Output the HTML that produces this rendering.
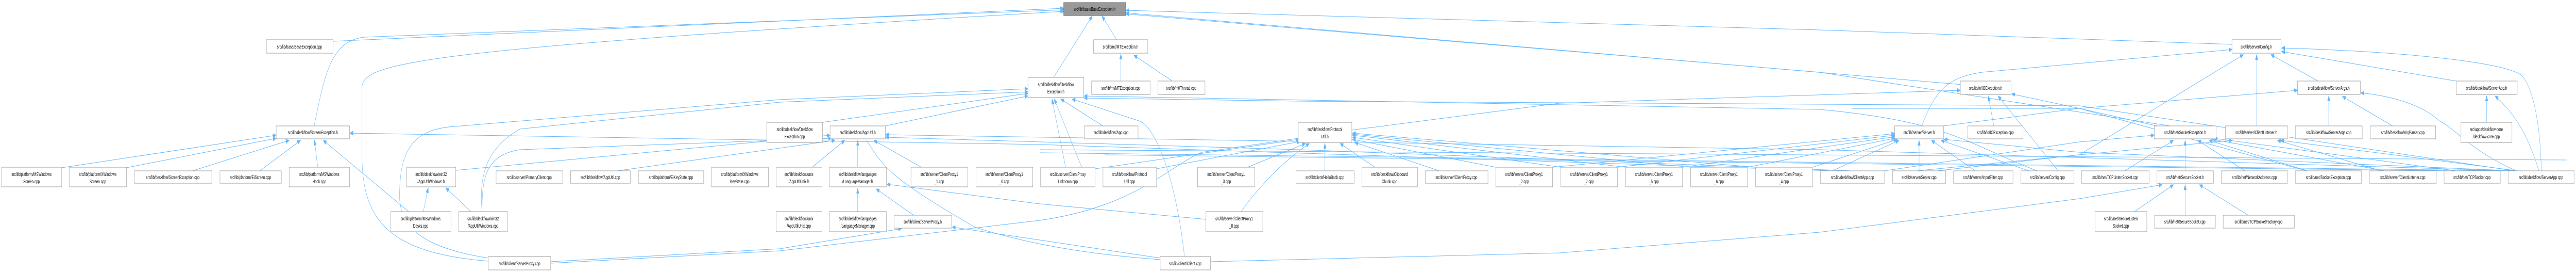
<!DOCTYPE html>
<html><head><meta charset="utf-8"><style>
html,body{margin:0;padding:0;background:#fff;width:100%;height:100%;overflow:hidden;}
svg{display:block;width:100vw;height:100vh;}
text{font-family:"Liberation Sans",Arial,sans-serif;font-size:10px;fill:#000;text-anchor:middle;}
.n{fill:#fff;stroke:#999;stroke-width:1;}
.e{fill:none;stroke:#63b8ff;stroke-width:1;marker-end:url(#a);}
.l{fill:none;stroke:#63b8ff;stroke-width:1;}
</style></head><body>
<svg viewBox="0 0 7929 527" preserveAspectRatio="none" xmlns="http://www.w3.org/2000/svg">
<defs><marker id="a" markerUnits="userSpaceOnUse" markerWidth="11" markerHeight="8" refX="10" refY="4" orient="auto"><path d="M0,0 L10,4 L0,8 z" fill="#63b8ff" stroke="#63b8ff"/></marker></defs>
<g>
<path class="e" d="M1025,80 L3274,16"/>
<path class="e" d="M967,244 C1000,140 1020,80 1120,72 L3274,19"/>
<path class="e" d="M1503,506 C1200,490 1114,430 1114,300 L1114,170 C1114,120 1300,95 3274,22"/>
<path class="e" d="M3243,150 L3362,31"/>
<path class="e" d="M3437,77 L3392,31"/>
<path class="e" d="M6040,164 L4800,97 L3466,25"/>
<path class="e" d="M6680,244 L5600,140 L3466,27"/>
<path class="e" d="M6870,86 L5600,58 L3466,20"/>
<path class="e" d="M190,325 L850,262"/>
<path class="e" d="M389,325 L850,268"/>
<path class="e" d="M592,331 L890,272"/>
<path class="e" d="M800,331 L925,272"/>
<path class="e" d="M978,324 L968,272"/>
<path class="e" d="M1258,410 L995,272"/>
<path class="e" d="M5640,331 L3200,280 L1077,258"/>
<path class="e" d="M1303,410 L1318,364"/>
<path class="e" d="M1450,410 L1372,364"/>
<path class="e" d="M1403,330 L2555,262"/>
<path class="e" d="M1484,410 C1482,340 1500,300 1600,290 L2560,268"/>
<path class="e" d="M1503,500 C1300,480 1230,440 1230,380 C1230,300 1260,250 1400,245 L2400,193 L3164,172"/>
<path class="e" d="M1484,410 C1470,320 1520,280 1600,250 L2400,198 L3164,178"/>
<path class="e" d="M2532,237 L3164,181"/>
<path class="e" d="M2725,244 L3164,186"/>
<path class="e" d="M3280,324 L3238,192"/>
<path class="e" d="M3330,324 C3300,280 3270,230 3245,192"/>
<path class="e" d="M3395,244 L3265,192"/>
<path class="e" d="M3646,497 C3620,350 3560,250 3510,235 L3300,192"/>
<path class="e" d="M6270,331 C6060,280 6000,235 5600,212 L3337,186"/>
<path class="e" d="M7740,331 L6400,205 L4000,196 L3337,190"/>
<path class="e" d="M1900,331 L2570,272"/>
<path class="e" d="M2500,324 L2600,272"/>
<path class="e" d="M2640,324 L2640,272"/>
<path class="e" d="M2836,324 L2690,272"/>
<path class="l" d="M2668,272 C2720,330 2770,355 3000,440 C3200,480 3400,495 3571,503"/>
<path class="e" d="M7730,331 L5600,290 L2726,261"/>
<path class="e" d="M5700,331 L4000,290 L2726,266"/>
<path class="e" d="M2640,410 L2640,365"/>
<path class="e" d="M2812,417 L2697,366"/>
<path class="e" d="M3712,425 L3200,395 L2730,357"/>
<path class="e" d="M1695,507 L2400,482 L2775,443"/>
<path class="l" d="M1695,510 L2400,486 L3200,427 C3500,400 3600,320 3700,295 L3996,268"/>
<path class="e" d="M3571,500 L3200,465 L2931,440"/>
<path class="e" d="M3450,157 L3450,105"/>
<path class="e" d="M3608,157 L3490,107"/>
<path class="e" d="M3371,327 L3999,270"/>
<path class="e" d="M3560,327 L4003,274"/>
<path class="e" d="M3840,324 L4018,278"/>
<path class="e" d="M3820,410 C3900,340 3980,300 4030,278"/>
<path class="e" d="M4078,331 L4078,278"/>
<path class="e" d="M4232,324 L4125,278"/>
<path class="e" d="M4430,331 L4170,276"/>
<path class="e" d="M4604,324 L4163,270"/>
<path class="e" d="M4804,324 L4163,266"/>
<path class="e" d="M5004,324 L4163,262"/>
<path class="e" d="M5204,324 L4163,260"/>
<path class="e" d="M5404,324 L4163,258"/>
<path class="e" d="M4161,252 L4800,200 L6034,175"/>
<path class="e" d="M3726,507 L4800,490 L5600,450 L6400,385 L6655,358"/>
<path class="e" d="M4979,324 L5832,262"/>
<path class="e" d="M5179,324 L5832,265"/>
<path class="e" d="M5379,324 L5832,268"/>
<path class="e" d="M5579,324 L5840,270"/>
<path class="e" d="M4780,324 L5832,259"/>
<path class="e" d="M5640,331 L5845,272"/>
<path class="e" d="M5907,331 L5907,272"/>
<path class="e" d="M6080,331 L5945,272"/>
<path class="e" d="M6245,331 L5975,272"/>
<path class="e" d="M7740,331 L6400,295 L5984,270"/>
<path class="e" d="M5915,244 C5960,170 6000,150 6100,140 L6870,96"/>
<path class="l" d="M5982,244 L6400,210 L6640,244"/>
<path class="e" d="M6137,244 L6120,186"/>
<path class="e" d="M6335,331 L6150,186"/>
<path class="e" d="M7100,331 L6400,210 L6192,182"/>
<path class="e" d="M7135,157 L6990,106"/>
<path class="e" d="M6946,244 L6946,106"/>
<path class="e" d="M5962,331 L6400,300 L6905,106"/>
<path class="e" d="M7560,157 L7023,100"/>
<path class="e" d="M7822,331 C7820,250 7800,170 7760,145 C7700,120 7400,100 7023,93"/>
<path class="e" d="M7168,244 L7168,186"/>
<path class="e" d="M7365,244 L7210,187"/>
<path class="e" d="M7745,331 C7600,290 7560,250 7510,235 C7450,200 7350,185 7267,180"/>
<path class="e" d="M5700,210 L6400,210 L7072,175"/>
<path class="e" d="M7654,237 L7654,186"/>
<path class="e" d="M7815,331 C7780,260 7740,220 7680,186"/>
<path class="e" d="M6540,331 L6690,272"/>
<path class="e" d="M6726,331 L6726,272"/>
<path class="e" d="M6910,331 L6765,272"/>
<path class="e" d="M7102,331 L6800,272"/>
<path class="e" d="M7340,331 L6810,270"/>
<path class="e" d="M7560,331 L6815,268"/>
<path class="e" d="M5800,331 L6400,275 L6631,262"/>
<path class="e" d="M7330,331 L7010,272"/>
<path class="e" d="M7750,331 L7020,272"/>
<path class="e" d="M5900,331 L6400,300 L6870,272"/>
<path class="e" d="M6570,410 L6690,358"/>
<path class="e" d="M6726,417 L6726,358"/>
<path class="e" d="M6920,417 L6770,358"/>
<path class="l" d="M3200,290 L7900,310"/>
<path class="l" d="M3200,296 L7740,331"/>
<path class="l" d="M3400,300 L7560,331"/>
</g>
<g>
<rect class="n" x="5" y="324" width="185" height="38"/><text x="97" y="341">src/lib/platform/MSWindows</text><text x="97" y="355">Screen.cpp</text>
<rect class="n" x="214" y="324" width="175" height="38"/><text x="301" y="341">src/lib/platform/XWindows</text><text x="301" y="355">Screen.cpp</text>
<rect class="n" x="413" y="331" width="239" height="24"/><text x="532" y="347">src/lib/deskflow/ScreenException.cpp</text>
<rect class="n" x="677" y="331" width="189" height="24"/><text x="771" y="347">src/lib/platform/EiScreen.cpp</text>
<rect class="n" x="820" y="77" width="205" height="26"/><text x="922" y="94">src/lib/base/BaseException.cpp</text>
<rect class="n" x="850" y="244" width="226" height="25"/><text x="963" y="260">src/lib/deskflow/ScreenException.h</text>
<rect class="n" x="890" y="324" width="186" height="38"/><text x="983" y="341">src/lib/platform/MSWindows</text><text x="983" y="355">Hook.cpp</text>
<rect class="n" x="1252" y="324" width="151" height="38"/><text x="1327" y="341">src/lib/deskflow/win32</text><text x="1327" y="355">/AppUtilWindows.h</text>
<rect class="n" x="1203" y="410" width="185" height="39"/><text x="1295" y="427">src/lib/platform/MSWindows</text><text x="1295" y="441">Desks.cpp</text>
<rect class="n" x="1412" y="410" width="150" height="39"/><text x="1487" y="427">src/lib/deskflow/win32</text><text x="1487" y="441">/AppUtilWindows.cpp</text>
<rect class="n" x="1527" y="331" width="205" height="24"/><text x="1629" y="347">src/lib/server/PrimaryClient.cpp</text>
<rect class="n" x="1503" y="497" width="192" height="26"/><text x="1599" y="514">src/lib/client/ServerProxy.cpp</text>
<rect class="n" x="1756" y="331" width="184" height="24"/><text x="1848" y="347">src/lib/deskflow/AppUtil.cpp</text>
<rect class="n" x="1965" y="331" width="201" height="24"/><text x="2065" y="347">src/lib/platform/EiKeyState.cpp</text>
<rect class="n" x="2190" y="324" width="175" height="38"/><text x="2277" y="341">src/lib/platform/XWindows</text><text x="2277" y="355">KeyState.cpp</text>
<rect class="n" x="2360" y="237" width="172" height="39"/><text x="2446" y="254">src/lib/deskflow/Deskflow</text><text x="2446" y="268">Exception.cpp</text>
<rect class="n" x="2389" y="324" width="141" height="38"/><text x="2459" y="341">src/lib/deskflow/unix</text><text x="2459" y="355">/AppUtilUnix.h</text>
<rect class="n" x="2389" y="410" width="141" height="39"/><text x="2459" y="427">src/lib/deskflow/unix</text><text x="2459" y="441">/AppUtilUnix.cpp</text>
<rect class="n" x="2555" y="244" width="170" height="25"/><text x="2640" y="260">src/lib/deskflow/AppUtil.h</text>
<rect class="n" x="2553" y="324" width="175" height="38"/><text x="2640" y="341">src/lib/deskflow/languages</text><text x="2640" y="355">/LanguageManager.h</text>
<rect class="n" x="2553" y="410" width="175" height="39"/><text x="2640" y="427">src/lib/deskflow/languages</text><text x="2640" y="441">/LanguageManager.cpp</text>
<rect class="n" x="2752" y="417" width="177" height="25"/><text x="2840" y="433">src/lib/client/ServerProxy.h</text>
<rect class="n" x="2804" y="324" width="175" height="38"/><text x="2891" y="341">src/lib/server/ClientProxy1</text><text x="2891" y="355">_1.cpp</text>
<rect class="n" x="3004" y="324" width="175" height="38"/><text x="3091" y="341">src/lib/server/ClientProxy1</text><text x="3091" y="355">_0.cpp</text>
<rect class="n" x="3164" y="150" width="172" height="39"/><text x="3250" y="167">src/lib/deskflow/Deskflow</text><text x="3250" y="181">Exception.h</text>
<rect x="3274" y="5" width="191" height="25" fill="#999" stroke="#666"/><text x="3369" y="21">src/lib/base/BaseException.h</text>
<rect class="n" x="3366" y="77" width="167" height="26"/><text x="3449" y="94">src/lib/mt/MTException.h</text>
<rect class="n" x="3360" y="157" width="180" height="26"/><text x="3450" y="174">src/lib/mt/MTException.cpp</text>
<rect class="n" x="3564" y="157" width="145" height="26"/><text x="3636" y="174">src/lib/mt/Thread.cpp</text>
<rect class="n" x="3338" y="244" width="165" height="25"/><text x="3420" y="260">src/lib/deskflow/App.cpp</text>
<rect class="n" x="3203" y="324" width="168" height="38"/><text x="3287" y="341">src/lib/server/ClientProxy</text><text x="3287" y="355">Unknown.cpp</text>
<rect class="n" x="3395" y="324" width="165" height="38"/><text x="3477" y="341">src/lib/deskflow/Protocol</text><text x="3477" y="355">Util.cpp</text>
<rect class="n" x="3686" y="324" width="176" height="38"/><text x="3774" y="341">src/lib/server/ClientProxy1</text><text x="3774" y="355">_3.cpp</text>
<rect class="n" x="3712" y="410" width="175" height="39"/><text x="3799" y="427">src/lib/server/ClientProxy1</text><text x="3799" y="441">_8.cpp</text>
<rect class="n" x="3571" y="497" width="155" height="26"/><text x="3648" y="514">src/lib/client/Client.cpp</text>
<rect class="n" x="3996" y="237" width="165" height="39"/><text x="4078" y="254">src/lib/deskflow/Protocol</text><text x="4078" y="268">Util.h</text>
<rect class="n" x="3989" y="331" width="179" height="24"/><text x="4078" y="347">src/lib/client/HelloBack.cpp</text>
<rect class="n" x="4192" y="324" width="171" height="38"/><text x="4277" y="341">src/lib/deskflow/Clipboard</text><text x="4277" y="355">Chunk.cpp</text>
<rect class="n" x="4387" y="331" width="193" height="24"/><text x="4483" y="347">src/lib/server/ClientProxy.cpp</text>
<rect class="n" x="4604" y="324" width="175" height="38"/><text x="4691" y="341">src/lib/server/ClientProxy1</text><text x="4691" y="355">_2.cpp</text>
<rect class="n" x="4804" y="324" width="175" height="38"/><text x="4891" y="341">src/lib/server/ClientProxy1</text><text x="4891" y="355">_7.cpp</text>
<rect class="n" x="5004" y="324" width="175" height="38"/><text x="5091" y="341">src/lib/server/ClientProxy1</text><text x="5091" y="355">_5.cpp</text>
<rect class="n" x="5204" y="324" width="175" height="38"/><text x="5291" y="341">src/lib/server/ClientProxy1</text><text x="5291" y="355">_6.cpp</text>
<rect class="n" x="5404" y="324" width="175" height="38"/><text x="5491" y="341">src/lib/server/ClientProxy1</text><text x="5491" y="355">_4.cpp</text>
<rect class="n" x="5603" y="331" width="198" height="24"/><text x="5702" y="347">src/lib/deskflow/ClientApp.cpp</text>
<rect class="n" x="5825" y="331" width="164" height="24"/><text x="5907" y="347">src/lib/server/Server.cpp</text>
<rect class="n" x="6013" y="331" width="183" height="24"/><text x="6104" y="347">src/lib/server/InputFilter.cpp</text>
<rect class="n" x="6220" y="331" width="164" height="24"/><text x="6302" y="347">src/lib/server/Config.cpp</text>
<rect class="n" x="5832" y="244" width="150" height="25"/><text x="5907" y="260">src/lib/server/Server.h</text>
<rect class="n" x="6034" y="157" width="156" height="26"/><text x="6112" y="174">src/lib/io/IOException.h</text>
<rect class="n" x="6057" y="244" width="170" height="25"/><text x="6142" y="260">src/lib/io/IOException.cpp</text>
<rect class="n" x="6870" y="77" width="151" height="26"/><text x="6945" y="94">src/lib/server/Config.h</text>
<rect class="n" x="7072" y="157" width="193" height="26"/><text x="7168" y="174">src/lib/deskflow/ServerArgs.h</text>
<rect class="n" x="6631" y="244" width="190" height="25"/><text x="6726" y="260">src/lib/net/SocketException.h</text>
<rect class="n" x="6850" y="244" width="191" height="25"/><text x="6945" y="260">src/lib/server/ClientListener.h</text>
<rect class="n" x="7065" y="244" width="206" height="25"/><text x="7168" y="260">src/lib/deskflow/ServerArgs.cpp</text>
<rect class="n" x="6407" y="331" width="208" height="24"/><text x="6511" y="347">src/lib/net/TCPListenSocket.cpp</text>
<rect class="n" x="6639" y="331" width="174" height="24"/><text x="6726" y="347">src/lib/net/SecureSocket.h</text>
<rect class="n" x="6837" y="331" width="204" height="24"/><text x="6939" y="347">src/lib/net/NetworkAddress.cpp</text>
<rect class="n" x="7065" y="331" width="204" height="24"/><text x="7167" y="347">src/lib/net/SocketException.cpp</text>
<rect class="n" x="6449" y="410" width="159" height="39"/><text x="6528" y="427">src/lib/net/SecureListen</text><text x="6528" y="441">Socket.cpp</text>
<rect class="n" x="6632" y="417" width="187" height="25"/><text x="6725" y="433">src/lib/net/SecureSocket.cpp</text>
<rect class="n" x="6843" y="417" width="219" height="25"/><text x="6952" y="433">src/lib/net/TCPSocketFactory.cpp</text>
<rect class="n" x="7296" y="244" width="201" height="25"/><text x="7396" y="260">src/lib/deskflow/ArgParser.cpp</text>
<rect class="n" x="7560" y="157" width="188" height="26"/><text x="7654" y="174">src/lib/deskflow/ServerApp.h</text>
<rect class="n" x="7575" y="237" width="157" height="39"/><text x="7653" y="254">src/apps/deskflow-core</text><text x="7653" y="268">/deskflow-core.cpp</text>
<rect class="n" x="7293" y="331" width="206" height="24"/><text x="7396" y="347">src/lib/server/ClientListener.cpp</text>
<rect class="n" x="7523" y="331" width="173" height="24"/><text x="7609" y="347">src/lib/net/TCPSocket.cpp</text>
<rect class="n" x="7720" y="331" width="203" height="24"/><text x="7821" y="347">src/lib/deskflow/ServerApp.cpp</text>
</g>
</svg>
</body></html>
